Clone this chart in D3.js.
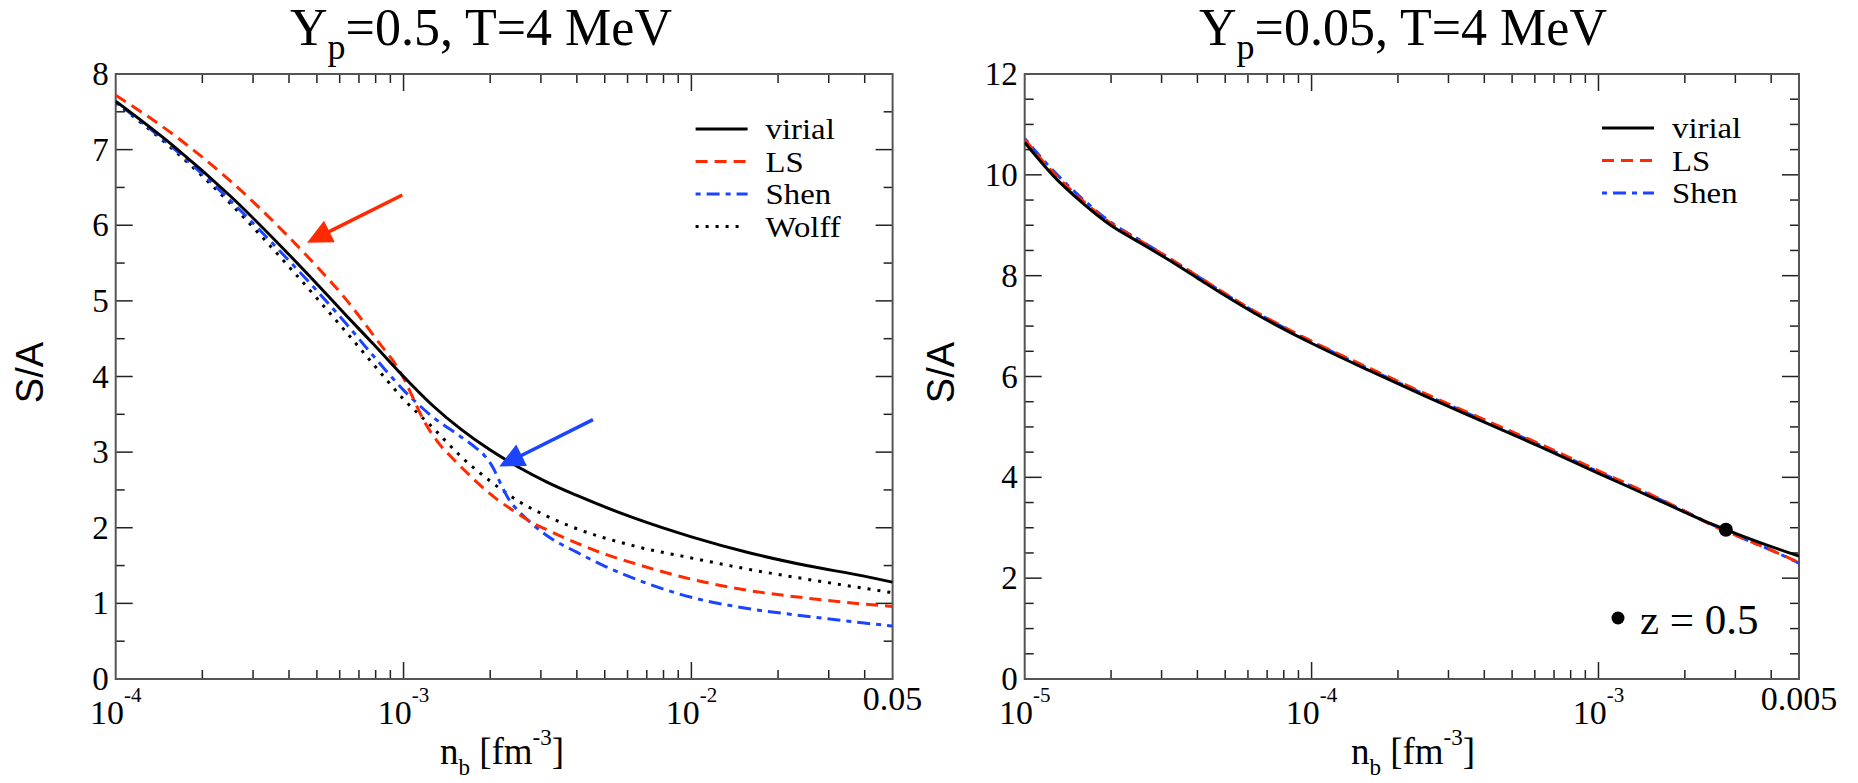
<!DOCTYPE html>
<html>
<head>
<meta charset="utf-8">
<script src="https://cdn.jsdelivr.net/npm/d3@7"></script>
<style>
  html, body { margin: 0; padding: 0; background: #fff; }
  svg { display: block; }
  svg text { font-family: "Liberation Serif", "Times New Roman", Times, "DejaVu Serif", serif; }
  svg text.sans { font-family: "Liberation Sans", Arial, Helvetica, "DejaVu Sans", sans-serif; }
</style>
</head>
<body>
<svg id="chart" width="1858" height="783" font-family="Liberation Serif, Times New Roman, DejaVu Serif, serif"></svg>
<script>
// ---------- data: entropy per baryon S/A vs baryon density n_b ----------
// Y_p = 0.5, T = 4 MeV
const virialA_nb = [1e-4, 1.585e-4, 2.512e-4, 3.981e-4, 5.012e-4, 6.31e-4, 7.943e-4, 1e-3, 1.259e-3, 1.585e-3, 1.995e-3, 2.512e-3, 3.162e-3, 3.981e-3, 6.31e-3, 1e-2, 1.585e-2, 2.512e-2, 3.981e-2, 5e-2];
const virialA_sa = [7.64, 7.05, 6.38, 5.62, 5.22, 4.81, 4.41, 4.00, 3.62, 3.30, 3.03, 2.80, 2.60, 2.43, 2.13, 1.88, 1.67, 1.50, 1.36, 1.28];

const lsA_nb = [1e-4, 1.585e-4, 2.512e-4, 3.981e-4, 5.012e-4, 6.31e-4, 7.943e-4, 1e-3, 1.072e-3, 1.175e-3, 1.318e-3, 1.514e-3, 1.778e-3, 1.995e-3, 2.512e-3, 2.818e-3, 3.162e-3, 3.981e-3, 5.012e-3, 6.31e-3, 1e-2, 1.585e-2, 2.512e-2, 3.981e-2, 5e-2];
const lsA_sa = [7.72, 7.20, 6.58, 5.85, 5.45, 5.02, 4.52, 3.98, 3.74, 3.42, 3.13, 2.88, 2.62, 2.45, 2.18, 2.06, 1.97, 1.80, 1.65, 1.53, 1.32, 1.17, 1.07, 0.99, 0.96];

const shenA_nb = [1e-4, 1.585e-4, 2.512e-4, 3.981e-4, 5.012e-4, 6.31e-4, 7.943e-4, 1e-3, 1.259e-3, 1.585e-3, 1.778e-3, 1.905e-3, 2.042e-3, 2.188e-3, 2.344e-3, 2.512e-3, 2.818e-3, 3.162e-3, 3.981e-3, 5.012e-3, 6.31e-3, 1e-2, 1.585e-2, 2.512e-2, 3.981e-2, 5e-2];
const shenA_sa = [7.63, 7.02, 6.32, 5.54, 5.13, 4.70, 4.25, 3.82, 3.47, 3.20, 3.06, 2.96, 2.80, 2.56, 2.35, 2.22, 2.04, 1.89, 1.68, 1.49, 1.33, 1.08, 0.93, 0.83, 0.74, 0.70];

const wolffA_nb = [1e-4, 1.585e-4, 2.512e-4, 3.981e-4, 5.012e-4, 6.31e-4, 7.943e-4, 1e-3, 1.259e-3, 1.585e-3, 1.995e-3, 2.512e-3, 3.162e-3, 3.981e-3, 6.31e-3, 1e-2, 1.585e-2, 2.512e-2, 3.981e-2, 5e-2];
const wolffA_sa = [7.62, 7.00, 6.28, 5.46, 5.03, 4.59, 4.14, 3.70, 3.33, 2.94, 2.62, 2.35, 2.15, 1.99, 1.76, 1.60, 1.45, 1.32, 1.20, 1.14];

// Y_p = 0.05, T = 4 MeV
const virialB_nb = [1e-5, 1.259e-5, 1.585e-5, 1.995e-5, 2.512e-5, 3.162e-5, 3.981e-5, 5.012e-5, 6.31e-5, 7.943e-5, 1e-4, 1.585e-4, 2.512e-4, 3.981e-4, 6.31e-4, 1e-3, 1.585e-3, 1.995e-3, 2.512e-3, 3.162e-3, 3.981e-3, 5e-3];
const virialB_sa = [10.64, 9.98, 9.45, 9.00, 8.66, 8.32, 7.96, 7.60, 7.26, 6.95, 6.66, 6.12, 5.60, 5.10, 4.60, 4.08, 3.57, 3.31, 3.06, 2.84, 2.63, 2.44];

const lsB_nb = [1e-5, 1.259e-5, 1.585e-5, 1.995e-5, 2.512e-5, 3.162e-5, 3.981e-5, 5.012e-5, 6.31e-5, 7.943e-5, 1e-4, 1.585e-4, 2.512e-4, 3.981e-4, 6.31e-4, 1e-3, 1.585e-3, 1.995e-3, 2.512e-3, 3.162e-3, 3.981e-3, 5e-3];
const lsB_sa = [10.70, 10.04, 9.50, 9.04, 8.70, 8.36, 8.00, 7.64, 7.30, 6.99, 6.70, 6.17, 5.65, 5.15, 4.65, 4.13, 3.61, 3.33, 3.04, 2.80, 2.56, 2.31];

const shenB_nb = [1e-5, 1.259e-5, 1.585e-5, 1.995e-5, 2.512e-5, 3.162e-5, 3.981e-5, 5.012e-5, 6.31e-5, 7.943e-5, 1e-4, 1.585e-4, 2.512e-4, 3.981e-4, 6.31e-4, 1e-3, 1.585e-3, 1.995e-3, 2.512e-3, 3.162e-3, 3.981e-3, 5e-3];
const shenB_sa = [10.72, 10.08, 9.53, 9.06, 8.71, 8.36, 8.00, 7.63, 7.29, 6.98, 6.69, 6.15, 5.63, 5.13, 4.63, 4.11, 3.60, 3.33, 3.05, 2.80, 2.56, 2.30];

// z = 0.5 point on the virial curve
const zPoint_nb = [2.78e-3];
const zPoint_sa = [2.96];

// arrows [tail n_b, tail S/A, head n_b, head S/A]
const arrowLS = [9.9e-4, 6.40, 4.62e-4, 5.77];
const arrowShen = [4.55e-3, 3.43, 2.15e-3, 2.81];

// tick labels
const xTicksA = [1e-4, 1e-3, 1e-2, 0.05];
const xTickLabelsA = [["10", "-4"], ["10", "-3"], ["10", "-2"], ["0.05"]];
const xTicksB = [1e-5, 1e-4, 1e-3, 0.005];
const xTickLabelsB = [["10", "-5"], ["10", "-4"], ["10", "-3"], ["0.005"]];
const yTicksA = [0, 1, 2, 3, 4, 5, 6, 7, 8];
const yTicksB = [0, 2, 4, 6, 8, 10, 12];

const legendA = ["virial", "LS", "Shen", "Wolff"];
const legendB = ["virial", "LS", "Shen"];

// ---------- styles ----------
const FONT = "Liberation Serif, Times New Roman, DejaVu Serif, serif";
const RED = "#ff2a00", BLUE = "#1a44ff";
const styles = {
  virial: { stroke: "#000", dash: null },
  LS: { stroke: RED, dash: "12,7" },
  Shen: { stroke: BLUE, dash: "5,6,13,6" },
  Wolff: { stroke: "#000", dash: "3,7" }
};

const svg = d3.select("#chart");

function zipPts(xs, ys) { return xs.map((x, i) => [x, ys[i]]); }

function drawPanel(cfg) {
  const x = d3.scaleLog().domain(cfg.xDomain).range([cfg.left, cfg.right]);
  const y = d3.scaleLinear().domain(cfg.yDomain).range([cfg.bottom, cfg.top]);
  const g = svg.append("g").attr("font-family", FONT);

  const clipId = "clip-" + cfg.id;
  svg.append("clipPath").attr("id", clipId).append("rect")
    .attr("x", cfg.left).attr("y", cfg.top)
    .attr("width", cfg.right - cfg.left).attr("height", cfg.bottom - cfg.top);

  // ticks (inward on all four sides)
  const majLen = 17, minLen = 9;
  const tk = g.append("g").attr("stroke", "#222").attr("stroke-width", 1.5);
  const [lo, hi] = cfg.xDomain;
  const xt = [];
  for (let e = Math.floor(Math.log10(lo)); e <= Math.ceil(Math.log10(hi)); e++) {
    for (let m = 1; m <= 9; m++) {
      const v = m * Math.pow(10, e);
      if (v > lo * 1.0001 && v < hi * 0.9999) xt.push({ v, major: m === 1 });
    }
  }
  xt.forEach(t => {
    const px = x(t.v), L = t.major ? majLen : minLen;
    tk.append("line").attr("x1", px).attr("x2", px).attr("y1", cfg.bottom).attr("y2", cfg.bottom - L);
    tk.append("line").attr("x1", px).attr("x2", px).attr("y1", cfg.top).attr("y2", cfg.top + L);
  });
  const yt = d3.range(cfg.yDomain[0], cfg.yDomain[1] + 1e-9, 0.5);
  yt.forEach(v => {
    if (v <= cfg.yDomain[0] || v >= cfg.yDomain[1]) return;
    const py = y(v), L = cfg.yMajor.includes(v) ? majLen : minLen;
    tk.append("line").attr("y1", py).attr("y2", py).attr("x1", cfg.left).attr("x2", cfg.left + L);
    tk.append("line").attr("y1", py).attr("y2", py).attr("x1", cfg.right).attr("x2", cfg.right - L);
  });

  // frame
  g.append("rect").attr("x", cfg.left).attr("y", cfg.top)
    .attr("width", cfg.right - cfg.left).attr("height", cfg.bottom - cfg.top)
    .attr("fill", "none").attr("stroke", "#555").attr("stroke-width", 2);

  // curves
  const line = d3.line().x(d => x(d[0])).y(d => y(d[1])).curve(d3.curveMonotoneX);
  const cg = g.append("g").attr("clip-path", `url(#${clipId})`);
  cfg.series.forEach(s => {
    const st = styles[s.name];
    cg.append("path").datum(zipPts(s.nb, s.sa))
      .attr("d", line).attr("fill", "none")
      .attr("stroke", st.stroke).attr("stroke-width", 3)
      .attr("stroke-dasharray", st.dash);
  });

  // x tick labels
  cfg.xTicks.forEach((v, i) => {
    const parts = cfg.xTickLabels[i];
    const t = g.append("text").attr("x", x(v)).attr("text-anchor", "middle")
      .attr("font-size", 34).attr("fill", "#000");
    if (parts.length === 1) {
      t.attr("y", cfg.bottom + 31).text(parts[0]);
    } else {
      t.attr("y", cfg.bottom + 45);
      t.append("tspan").text(parts[0]);
      t.append("tspan").attr("font-size", 21).attr("dy", -22).text(parts[1]);
    }
  });
  // y tick labels
  cfg.yMajor.forEach(v => {
    g.append("text").attr("x", cfg.left - 7).attr("y", y(v) + 11)
      .attr("text-anchor", "end").attr("font-size", 33).attr("fill", "#000")
      .text(String(v));
  });

  // axis titles
  const xl = g.append("text").attr("x", cfg.xLabelX).attr("y", 764)
    .attr("text-anchor", "middle").attr("font-size", 37);
  xl.append("tspan").text("n");
  xl.append("tspan").attr("font-size", 23).attr("dy", 11).text("b");
  xl.append("tspan").attr("dy", -11).text(" [fm");
  xl.append("tspan").attr("font-size", 23).attr("dy", -19).text("-3");
  xl.append("tspan").attr("dy", 19).text("]");

  g.append("text").attr("class", "sans")
    .attr("font-family", "Liberation Sans, Arial, DejaVu Sans, sans-serif")
    .attr("transform", `translate(${cfg.yLabelX},${(cfg.top + cfg.bottom) / 2 - 4}) rotate(-90)`)
    .attr("text-anchor", "middle").attr("font-size", 38).text("S/A");

  // title
  const tt = g.append("text").attr("x", cfg.titleX).attr("y", 45)
    .attr("text-anchor", "middle").attr("font-size", 52);
  tt.append("tspan").text("Y");
  tt.append("tspan").attr("font-size", 36).attr("dy", 14).text("p");
  tt.append("tspan").attr("dy", -14).text(cfg.titleRest);

  // legend: glyphs widened slightly so the compact rows keep the wide lettering
  cfg.legend.forEach((name, i) => {
    const ly = cfg.legendY + i * 32.5, st = styles[name];
    g.append("line").attr("x1", cfg.legendX).attr("x2", cfg.legendX + (name === "Wolff" ? 46 : 52))
      .attr("y1", ly).attr("y2", ly).attr("stroke", st.stroke).attr("stroke-width", 3)
      .attr("stroke-dasharray", st.dash);
    const t = g.append("text").attr("x", cfg.legendX + 70).attr("y", ly + 10)
      .attr("font-size", 29).text(name);
    const w = t.node().getComputedTextLength();
    t.attr("textLength", w * 1.13).attr("lengthAdjust", "spacingAndGlyphs");
  });

  return { x, y, g };
}

function drawArrow(p, a, color) {
  const x0 = p.x(a[0]), y0 = p.y(a[1]), x1 = p.x(a[2]), y1 = p.y(a[3]);
  const dx = x1 - x0, dy = y1 - y0, len = Math.hypot(dx, dy);
  const ux = dx / len, uy = dy / len, hl = 25, hw = 12;
  const bx = x1 - ux * hl, by = y1 - uy * hl;
  p.g.append("line").attr("x1", x0).attr("y1", y0).attr("x2", bx + ux * 2).attr("y2", by + uy * 2)
    .attr("stroke", color).attr("stroke-width", 3.5);
  p.g.append("path").attr("fill", color)
    .attr("d", `M${x1},${y1}L${bx - uy * hw},${by + ux * hw}L${bx + uy * hw},${by - ux * hw}Z`);
}

const pA = drawPanel({
  id: "a", left: 115.7, right: 892.6, top: 74, bottom: 679,
  xDomain: [1e-4, 0.05], yDomain: [0, 8], yMajor: yTicksA,
  xTicks: xTicksA, xTickLabels: xTickLabelsA,
  xLabelX: 502, yLabelX: 43, titleX: 481, titleRest: "=0.5, T=4 MeV",
  legend: legendA, legendX: 695.6, legendY: 129,
  series: [
    { name: "Wolff", nb: wolffA_nb, sa: wolffA_sa },
    { name: "Shen", nb: shenA_nb, sa: shenA_sa },
    { name: "LS", nb: lsA_nb, sa: lsA_sa },
    { name: "virial", nb: virialA_nb, sa: virialA_sa }
  ]
});
drawArrow(pA, arrowLS, RED);
drawArrow(pA, arrowShen, BLUE);

const pB = drawPanel({
  id: "b", left: 1024.7, right: 1799, top: 74, bottom: 679,
  xDomain: [1e-5, 0.005], yDomain: [0, 12], yMajor: yTicksB,
  xTicks: xTicksB, xTickLabels: xTickLabelsB,
  xLabelX: 1413, yLabelX: 954, titleX: 1403, titleRest: "=0.05, T=4 MeV",
  legend: legendB, legendX: 1602, legendY: 128,
  series: [
    { name: "Shen", nb: shenB_nb, sa: shenB_sa },
    { name: "LS", nb: lsB_nb, sa: lsB_sa },
    { name: "virial", nb: virialB_nb, sa: virialB_sa }
  ]
});

// z = 0.5 marker and its key
pB.g.selectAll("circle.z").data(zipPts(zPoint_nb, zPoint_sa)).enter().append("circle")
  .attr("class", "z").attr("cx", d => pB.x(d[0])).attr("cy", d => pB.y(d[1])).attr("r", 7).attr("fill", "#000");
pB.g.append("circle").attr("cx", 1618).attr("cy", 618).attr("r", 6.5).attr("fill", "#000");
pB.g.append("text").attr("x", 1640).attr("y", 634).attr("font-size", 43).text("z = 0.5");
</script>
</body>
</html>
